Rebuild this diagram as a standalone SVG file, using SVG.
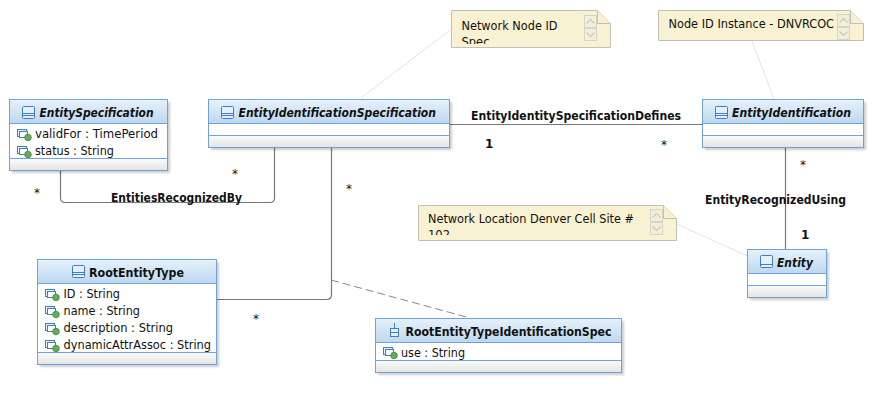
<svg xmlns="http://www.w3.org/2000/svg" width="878" height="401" viewBox="0 0 878 401">
<style>
text{font-family:"DejaVu Sans","Liberation Sans",sans-serif;font-size:12px;fill:#111}
.t{font-weight:bold}
.i{font-style:italic}
.box{fill:url(#foot);stroke:none}
.outline{fill:none;stroke:#6fa3d8;stroke-width:1}
.sep{stroke:#6fa3d8;stroke-width:1}
.shadow{fill:#000;opacity:.2;filter:url(#blur)}
.head{fill:url(#headG)}
.body{fill:#fff}
.note{fill:#f8f2d2;stroke:#c0c0b8;stroke-width:1}
.fold{fill:#f8f2d2;stroke:#c0c0b8;stroke-width:1}
.conn{fill:none;stroke:#777;stroke-width:1.2}
.dash{fill:none;stroke:#888;stroke-width:1;stroke-dasharray:8 4}
.nl{fill:none;stroke:#e2e2e2;stroke-width:1}
.ci{fill:#e4eff9;stroke:#3f7fc0;stroke-width:1}
.sb{fill:#f3efd6;stroke:#d4d4cc;stroke-width:1}
.ch{fill:none;stroke:#c8c8c0;stroke-width:1.2}
</style>
<defs>
<filter id="blur" x="-10%" y="-10%" width="120%" height="120%"><feGaussianBlur stdDeviation="1"/></filter>
<linearGradient id="headG" x1="0" y1="0" x2="0" y2="1"><stop offset="0" stop-color="#e6f1fa"/><stop offset="1" stop-color="#bcd7ef"/></linearGradient>
<linearGradient id="foot" x1="0" y1="0" x2="0" y2="1"><stop offset="0" stop-color="#fdfdfd"/><stop offset="1" stop-color="#e4e4e4"/></linearGradient>
<g id="cls"><rect class="ci" x="0.5" y="0.500" width="12" height="12" rx="1"/><path d="M0.500 7.500H12.500M0.500 9.500H12.500" stroke="#3f7fc0" fill="none"/></g>
<g id="attr"><rect x="0.500" y="0.500" width="9" height="7" fill="#e8f1fa" stroke="#3f7fc0"/><rect x="2.500" y="2.500" width="8" height="6" fill="#fff" stroke="#3f7fc0"/><circle cx="11" cy="8.500" r="3.300" fill="#62ad5c" stroke="#3d8a3d" stroke-width=".8"/></g>
<g id="scroll"><rect class="sb" x="0.500" y="0.500" width="12" height="12"/><path class="ch" d="M2.500 8.500L6.500 4.500L10.500 8.500"/><rect class="sb" x="0.500" y="13.500" width="12" height="12"/><path class="ch" d="M2.500 17.500L6.500 21.500L10.500 17.500"/></g>
<clipPath id="c1"><rect x="455" y="12" width="130" height="32"/></clipPath>
<clipPath id="c3"><rect x="422" y="207" width="225" height="28"/></clipPath>
</defs>

<g id="connectors">
<path class="nl" d="M451.500 29L361 98"/>
<path class="nl" d="M752 41L774 99"/>
<path class="nl" d="M676.500 224L747.500 256"/>
<path class="conn" d="M60.500 170V198Q60.500 202.500 65 202.500H270Q274.500 202.500 274.500 198V147.500"/>
<path class="conn" d="M449.500 124.500H702.500"/>
<path class="conn" d="M785.500 147.500V249.500"/>
<path class="conn" d="M331.500 147.500V294.500Q331.500 299.500 326.500 299.500H217"/>
<path class="dash" d="M331 280L470 318"/>
</g>

<g id="EntitySpecification">
<rect class="shadow" x="12" y="102" width="158" height="71"/>
<rect class="box" x="10" y="158" width="157" height="12"/>
<rect class="head" x="10" y="100" width="157" height="24"/>
<rect class="body" x="10" y="124" width="157" height="34"/>
<path class="sep" d="M10 123.500H167M10 158.500H167"/>
<rect class="outline" x="9.500" y="99.500" width="158" height="71"/>
<use href="#cls" x="22" y="106"/>
<text class="t i" x="39.500" y="117" textLength="114" lengthAdjust="spacingAndGlyphs">EntitySpecification</text>
<use href="#attr" x="17" y="129"/><text x="35" y="138" textLength="123" lengthAdjust="spacingAndGlyphs">validFor : TimePeriod</text>
<use href="#attr" x="17" y="146"/><text x="35" y="155" textLength="79" lengthAdjust="spacingAndGlyphs">status : String</text>
</g>

<g id="EntityIdentificationSpecification">
<rect class="shadow" x="211" y="102" width="241" height="48"/>
<rect class="box" x="209" y="135" width="240" height="12"/>
<rect class="head" x="209" y="100" width="240" height="24"/>
<rect class="body" x="209" y="124" width="240" height="12"/>
<path class="sep" d="M209 123.500H449M209 135.500H449"/>
<rect class="outline" x="208.500" y="99.500" width="241" height="48"/>
<use href="#cls" x="221" y="106"/>
<text class="t i" x="238.500" y="117" textLength="197.500" lengthAdjust="spacingAndGlyphs">EntityIdentificationSpecification</text>
</g>

<g id="EntityIdentification">
<rect class="shadow" x="705" y="102" width="161" height="48"/>
<rect class="box" x="703" y="135" width="160" height="12"/>
<rect class="head" x="703" y="100" width="160" height="24"/>
<rect class="body" x="703" y="124" width="160" height="12"/>
<path class="sep" d="M703 123.500H863M703 135.500H863"/>
<rect class="outline" x="702.500" y="99.500" width="161" height="48"/>
<use href="#cls" x="715" y="106"/>
<text class="t i" x="732" y="117" textLength="119" lengthAdjust="spacingAndGlyphs">EntityIdentification</text>
</g>

<g id="Entity">
<rect class="shadow" x="750" y="252" width="79" height="48"/>
<rect class="box" x="748" y="285" width="78" height="12"/>
<rect class="head" x="748" y="250" width="78" height="24"/>
<rect class="body" x="748" y="274" width="78" height="12"/>
<path class="sep" d="M748 273.500H826M748 285.500H826"/>
<rect class="outline" x="747.500" y="249.500" width="79" height="48"/>
<rect class="ci" x="760.500" y="255.500" width="12" height="12" rx="1"/><path d="M760.500 264.500H772.500" stroke="#3f7fc0"/>
<text class="t i" x="777" y="267" textLength="36" lengthAdjust="spacingAndGlyphs">Entity</text>
</g>

<g id="RootEntityType">
<rect class="shadow" x="40" y="262" width="179" height="105"/>
<rect class="box" x="38" y="352" width="178" height="12"/>
<rect class="head" x="38" y="260" width="178" height="24"/>
<rect class="body" x="38" y="284" width="178" height="68"/>
<path class="sep" d="M38 283.500H216M38 352.500H216"/>
<rect class="outline" x="37.500" y="259.500" width="179" height="105"/>
<use href="#cls" x="72" y="265"/>
<text class="t" x="89" y="277" textLength="95" lengthAdjust="spacingAndGlyphs">RootEntityType</text>
<use href="#attr" x="45" y="289"/><text x="63.500" y="298" textLength="56.500" lengthAdjust="spacingAndGlyphs">ID : String</text>
<use href="#attr" x="45" y="306"/><text x="63.500" y="315" textLength="76.500" lengthAdjust="spacingAndGlyphs">name : String</text>
<use href="#attr" x="45" y="323"/><text x="63.500" y="332" textLength="109.500" lengthAdjust="spacingAndGlyphs">description : String</text>
<use href="#attr" x="45" y="340"/><text x="63.500" y="349" textLength="147.500" lengthAdjust="spacingAndGlyphs">dynamicAttrAssoc : String</text>
</g>

<g id="RootEntityTypeIdentificationSpec">
<rect class="shadow" x="378" y="321" width="246" height="54"/>
<rect class="box" x="376" y="360" width="245" height="12"/>
<rect class="head" x="376" y="319" width="245" height="24"/>
<rect class="body" x="376" y="343" width="245" height="17"/>
<path class="sep" d="M376 342.500H621M376 360.500H621"/>
<rect class="outline" x="375.500" y="318.500" width="246" height="54"/>
<rect class="ci" x="390.500" y="328.500" width="8" height="8"/><path d="M390.500 332.500H398.500M394.500 323V328" stroke="#3f7fc0" fill="none"/>
<text class="t" x="405.500" y="336" textLength="206" lengthAdjust="spacingAndGlyphs">RootEntityTypeIdentificationSpec</text>
<use href="#attr" x="383" y="347"/><text x="401" y="357" textLength="64" lengthAdjust="spacingAndGlyphs">use : String</text>
</g>

<g id="NoteNetworkNode">
<path class="note" d="M451.500 10.500H597.500L610.500 23.500V47.500H451.500Z"/>
<path class="fold" d="M597.500 10.500V23.500H610.500"/>
<use href="#scroll" x="584" y="15"/>
<g clip-path="url(#c1)"><text x="461.500" y="30" textLength="96" lengthAdjust="spacingAndGlyphs">Network Node ID</text><text x="461.500" y="46" textLength="28" lengthAdjust="spacingAndGlyphs">Spec</text></g>
</g>

<g id="NoteNodeInstance">
<path class="note" d="M658.500 10.500H850.500L863.500 23.500V40.500H658.500Z"/>
<path class="fold" d="M850.500 10.500V23.500H863.500"/>
<use href="#scroll" x="837" y="14"/>
<text x="668.500" y="28" textLength="165.500" lengthAdjust="spacingAndGlyphs">Node ID Instance - DNVRCOC</text>
</g>

<g id="NoteLocation">
<path class="note" d="M418.500 205.500H663.500L676.500 218.500V240.500H418.500Z"/>
<path class="fold" d="M663.500 205.500V218.500H676.500"/>
<use href="#scroll" x="650" y="209"/>
<g clip-path="url(#c3)"><text x="428" y="223" textLength="206" lengthAdjust="spacingAndGlyphs">Network Location Denver Cell Site #</text><text x="428" y="239" textLength="22" lengthAdjust="spacingAndGlyphs">102</text></g>
</g>

<g id="labels">
<text class="t" x="111" y="202" textLength="131" lengthAdjust="spacingAndGlyphs">EntitiesRecognizedBy</text>
<text class="t" x="471" y="120" textLength="210" lengthAdjust="spacingAndGlyphs">EntityIdentitySpecificationDefines</text>
<text class="t" x="705" y="204" textLength="141" lengthAdjust="spacingAndGlyphs">EntityRecognizedUsing</text>
<text class="t" x="485" y="148">1</text>
<text x="661" y="149">*</text>
<text x="232" y="178">*</text>
<text x="34" y="197">*</text>
<text x="346" y="193">*</text>
<text x="800" y="169">*</text>
<text class="t" x="801" y="239">1</text>
<text x="253" y="323">*</text>
</g>
</svg>
